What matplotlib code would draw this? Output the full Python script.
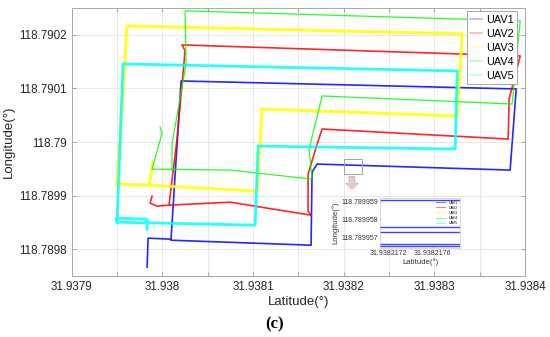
import matplotlib
matplotlib.use('Agg')
import matplotlib.pyplot as plt
from matplotlib.ticker import MultipleLocator, FuncFormatter
from matplotlib.patches import Rectangle, FancyArrow

plt.rcParams['font.family'] = ['Liberation Sans', 'DejaVu Sans']

names = ['UAV1', 'UAV2', 'UAV3', 'UAV4', 'UAV5']
colors = ['#0000ff', '#ff0000', '#ffff00', '#00ff00', '#00ffff']
widths = [1.2, 1.2, 2.2, 0.9, 2.0]

# trajectories (latitude, longitude)
lat1 = [31.9379831, 31.9379842, 31.9380095, 31.9380206, 31.9383901, 31.9383834,
        31.9381706, 31.9381650, 31.9381639, 31.9380095]
lon1 = [118.7897663, 118.7898206, 118.7898187, 118.7901140, 118.7900991, 118.7899477,
        118.7899589, 118.7899439, 118.7898075, 118.7898168]

lat2 = [31.9379886, 31.9379864, 31.9379941, 31.9380073, 31.9380161, 31.9380250,
        31.9380217, 31.9383945, 31.9383823, 31.9383812, 31.9381761, 31.9381706,
        31.9381606, 31.9381606, 31.9381639, 31.9380746, 31.9380073]
lon2 = [118.7898991, 118.7898860, 118.7898804, 118.7898822, 118.7900056, 118.7901701,
        118.7901813, 118.7901607, 118.7900804, 118.7900056, 118.7900243, 118.7899963,
        118.7899402, 118.7898710, 118.7898635, 118.7898878, 118.7898822]

lat3 = [31.9379897, 31.9379853, 31.9381044, 31.9381099, 31.9383250, 31.9383305,
        31.9379610, 31.9379500, 31.9379853]
lon3 = [118.7899626, 118.7899196, 118.7899084, 118.7900617, 118.7900486, 118.7902019,
        118.7902168, 118.7899215, 118.7899196]

lat4 = [31.9379974, 31.9379996, 31.9379886, 31.9380746, 31.9381650, 31.9381617,
        31.9381761, 31.9383856, 31.9383945, 31.9380250, 31.9380261, 31.9380106,
        31.9380106]
lon4 = [118.7900280, 118.7900168, 118.7899495, 118.7899477, 118.7899308, 118.7899869,
        118.7900860, 118.7900710, 118.7902262, 118.7902449, 118.7901458, 118.7899963,
        118.7899458]

lat5 = [31.9379831, 31.9379831, 31.9379489, 31.9379500, 31.9381022, 31.9381055,
        31.9383228, 31.9383250, 31.9379566, 31.9379500]
lon5 = [118.7898374, 118.7898561, 118.7898579, 118.7898505, 118.7898449, 118.7899925,
        118.7899869, 118.7901327, 118.7901458, 118.7898505]

lats = [lat1, lat2, lat3, lat4, lat5]
lons = [lon1, lon2, lon3, lon4, lon5]

# zoomed-in detail (UAV1 laps)
inset_lons = [118.7899591, 118.7899576, 118.7899573, 118.7899566, 118.7899565]
inset_xlim = [31.93821712, 31.93821785]
inset_ylim = [118.7899564, 118.7899592]
inset_xticks = [31.9382172, 31.9382176]
inset_yticks = [118.789957, 118.789958, 118.789959]

fig = plt.figure(figsize=(5.5, 3.37), dpi=100)
ax = fig.add_axes([0.1304, 0.181, 0.8245, 0.795])

for la, lo, c, w, n in zip(lats, lons, colors, widths, names):
    ax.plot(la, lo, color=c, lw=w, alpha=0.85, label=n, solid_joinstyle='round')

ax.set_xlim(31.9379, 31.9384)
ax.set_ylim(118.78975, 118.79025)
ax.xaxis.set_major_locator(MultipleLocator(0.00005))
ax.yaxis.set_major_locator(MultipleLocator(0.0001))


def xfmt(v, pos):
    k = round((v - 31.9379) / 0.00005)
    if k % 2:
        return ''
    return ('%.4f' % v).rstrip('0').rstrip('.')


ax.xaxis.set_major_formatter(FuncFormatter(xfmt))
ax.yaxis.set_major_formatter(FuncFormatter(lambda v, p: ('%.4f' % v).rstrip('0').rstrip('.')))
ax.tick_params(direction='in', top=True, right=True, length=3, width=0.6,
               labelsize=8.4, colors='#999999', labelcolor='#262626')
ax.grid(True, color='#e3e3e3', lw=0.6)
ax.set_axisbelow(True)
for s in ax.spines.values():
    s.set_color('#aaaaaa')
    s.set_linewidth(0.7)
ax.set_xlabel('Latitude(°)', fontsize=9.5, color='#262626', labelpad=2)
ax.set_ylabel('Longitude(°)', fontsize=9.5, color='#262626', labelpad=3)

leg = ax.legend(loc='upper right', bbox_to_anchor=(0.983, 0.988), fontsize=7.8,
                fancybox=False, edgecolor='#999999', framealpha=1,
                handlelength=1.1, handletextpad=0.4, labelspacing=0.38,
                borderpad=0.3, borderaxespad=0)
leg.get_frame().set_linewidth(0.6)
for h in leg.get_lines():
    h.set_alpha(0.3)
    h.set_linewidth(1.2)

# zoom marker box and arrow
ax.add_patch(Rectangle((31.93820, 118.789940), 0.0000198, 0.000028,
                       fill=False, edgecolor='#a0a0a0', lw=0.7, zorder=5))
ax.add_patch(FancyArrow(0.618, 0.372, 0, -0.048, width=0.013, head_width=0.028,
                        head_length=0.022, length_includes_head=True,
                        transform=ax.transAxes, facecolor='#e8cccc',
                        edgecolor='#c9aaaa', lw=0.5, zorder=5))

# inset
ins = fig.add_axes([0.6909, 0.2641, 0.1455, 0.1484])
for v in inset_lons:
    ins.plot(inset_xlim, [v, v], color='#0000ff', lw=1.0, alpha=0.75)
for la, c, n in zip(lats, colors, names):
    ins.plot([], [], color=c, lw=0.8, label=n)
ins.set_xlim(inset_xlim)
ins.set_ylim(inset_ylim)
ins.set_xticks(inset_xticks)
ins.set_yticks(inset_yticks)
ins.xaxis.set_major_formatter(FuncFormatter(lambda v, p: '%.7f' % v))
ins.yaxis.set_major_formatter(FuncFormatter(lambda v, p: '%.6f' % v))
ins.tick_params(direction='in', length=1.5, width=0.4, labelsize=5,
                colors='#bbbbbb', labelcolor='#333333', pad=1.5)
for s in ins.spines.values():
    s.set_color('#cccccc')
    s.set_linewidth(0.5)
ins.set_xlabel('Latitude(°)', fontsize=5.6, color='#333333', labelpad=1)
ins.set_ylabel('Longitude(°)', fontsize=5.6, color='#333333', labelpad=1)
il = ins.legend(loc='upper right', fontsize=2.6, frameon=False,
                handlelength=2.5, labelspacing=0.3, borderaxespad=0.3)
for h in il.get_lines():
    h.set_alpha(0.5)

fig.text(0.5, 0.036, '(c)', ha='center', va='center', fontsize=12,
         fontweight='bold', family=['Liberation Serif', 'DejaVu Serif'])

fig.savefig('out.png', dpi=100)
